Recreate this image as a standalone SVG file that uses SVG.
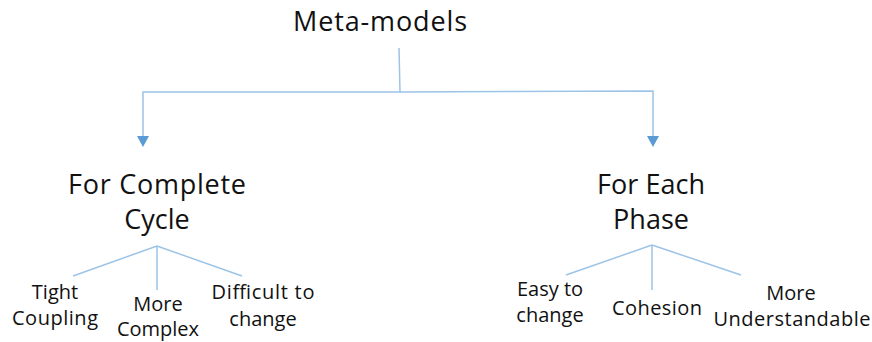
<svg xmlns="http://www.w3.org/2000/svg" width="872" height="342" viewBox="0 0 872 342">
<style>
text{font-family:"Open Sans","Noto Sans",sans-serif;fill:#111;text-anchor:middle}
.h{font-size:27px}
.s{font-size:20px}
.c{fill:none;stroke:#9DC3E6;stroke-width:1.5}
.a{fill:#5B9BD5}
</style>
<g id="connectors">
<polyline class="c" points="399,48 400,92 143,92 143,138"/>
<polyline class="c" points="400,92 653,91 653,138"/>
<polygon class="a" points="137,136 149,136 143,147"/>
<polygon class="a" points="647,136 659,136 653,147"/>
<line class="c" x1="157" y1="246" x2="73" y2="276"/>
<line class="c" x1="157" y1="246" x2="157" y2="290"/>
<line class="c" x1="157" y1="246" x2="242" y2="276"/>
<line class="c" x1="652" y1="245" x2="566" y2="275"/>
<line class="c" x1="652" y1="245" x2="652" y2="290"/>
<line class="c" x1="652" y1="245" x2="741" y2="275"/>
</g>
<g id="root"><text class="h" x="380" y="31" textLength="174">Meta-models</text></g>
<g id="complete"><text class="h" x="157" y="194" textLength="178">For Complete</text><text class="h" x="157" y="229">Cycle</text></g>
<g id="each"><text class="h" x="651" y="194" textLength="108">For Each</text><text class="h" x="651" y="229">Phase</text></g>
<g id="tight"><text class="s" x="55" y="299">Tight</text><text class="s" x="55" y="325" textLength="86">Coupling</text></g>
<g id="complex"><text class="s" x="158" y="311">More</text><text class="s" x="158" y="336" textLength="82">Complex</text></g>
<g id="difficult"><text class="s" x="263" y="299" textLength="103">Difficult to</text><text class="s" x="263" y="326">change</text></g>
<g id="easy"><text class="s" x="550" y="296">Easy to</text><text class="s" x="550" y="322">change</text></g>
<g id="cohesion"><text class="s" x="657" y="315" textLength="90">Cohesion</text></g>
<g id="understandable"><text class="s" x="791" y="300">More</text><text class="s" x="792" y="326" textLength="157">Understandable</text></g>
</svg>
